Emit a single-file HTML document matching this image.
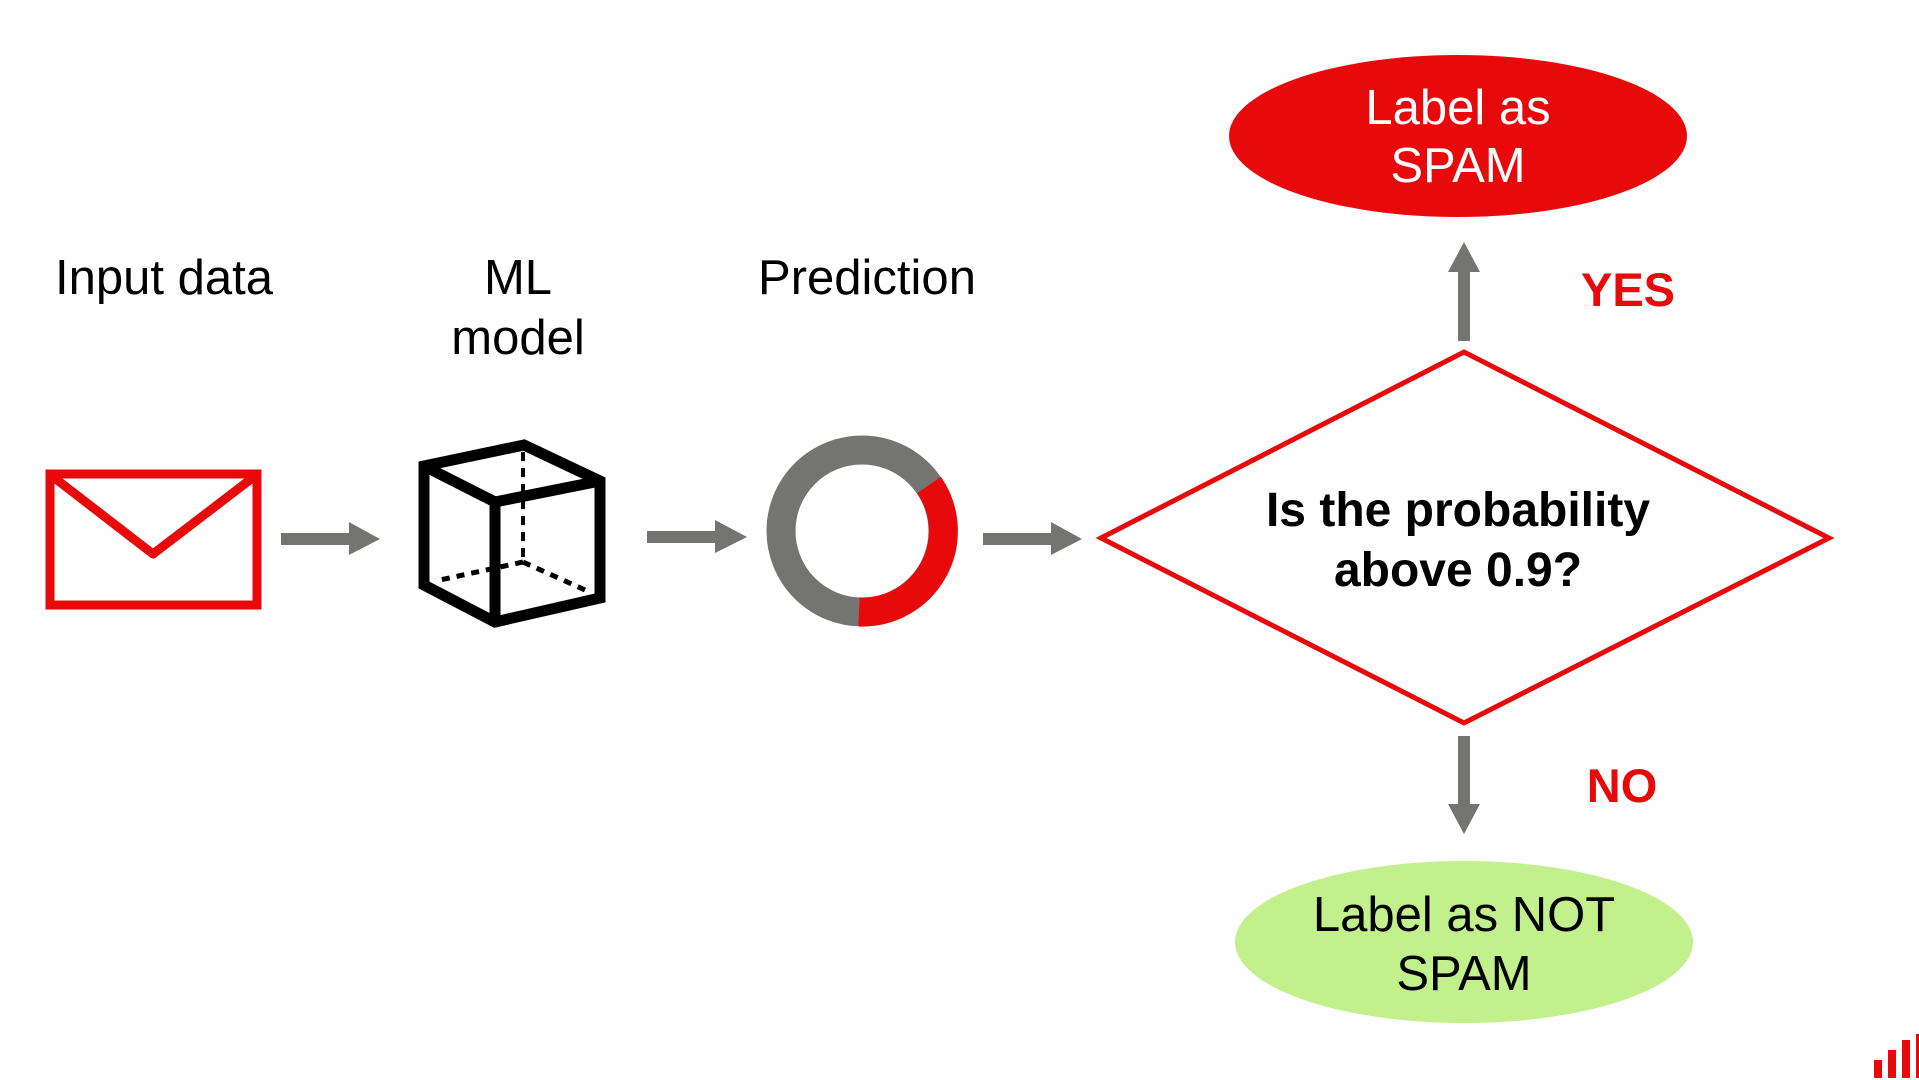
<!DOCTYPE html>
<html><head><meta charset="utf-8"><style>
html,body{margin:0;padding:0;background:#fff}
svg{display:block}
text{font-family:"Liberation Sans",Arial,sans-serif}
</style></head><body>
<svg width="1919" height="1080" viewBox="0 0 1919 1080">
<g font-size="49" fill="#000" text-anchor="middle">
<text x="164" y="294">Input data</text>
<text x="518" y="294">ML</text>
<text x="518" y="354">model</text>
<text x="867" y="294">Prediction</text>
</g>
<!-- envelope -->
<rect x="50" y="474" width="207" height="131" fill="none" stroke="#e8090a" stroke-width="9"/>
<polyline points="52,476 153,554 255,476" fill="none" stroke="#e8090a" stroke-width="9" stroke-linejoin="round"/>
<!-- cube -->
<g fill="none" stroke="#000" stroke-width="11" stroke-linejoin="miter">
<polygon points="424,466 524,445 600,481 600,598 495,622 424,585"/>
<polyline points="424,466 495,502 600,481"/>
<line x1="495" y1="502" x2="495" y2="622"/>
</g>
<g fill="none" stroke="#000">
<line x1="523" y1="452" x2="523" y2="562" stroke-width="4" stroke-dasharray="9,7"/>
<line x1="523" y1="562" x2="440" y2="580" stroke-width="5" stroke-dasharray="8,7"/>
<line x1="523" y1="562" x2="585" y2="590" stroke-width="5" stroke-dasharray="8,7"/>
</g>
<!-- donut -->
<circle cx="862" cy="531" r="81" fill="none" stroke="#747572" stroke-width="29"/>
<path d="M 929 485 A 81 81 0 0 1 859 612" fill="none" stroke="#e8090a" stroke-width="29"/>
<!-- arrows -->
<g fill="#747572">
<rect x="281" y="533" width="69" height="12"/><polygon points="349,522 380,539 349,555"/>
<rect x="647" y="531" width="69" height="12"/><polygon points="715,520 747,537 715,553"/>
<rect x="983" y="533" width="69" height="12"/><polygon points="1051,522 1082,539 1051,555"/>
<rect x="1458" y="270" width="12" height="71"/><polygon points="1448,272 1464,242 1480,272"/>
<rect x="1458" y="736" width="12" height="70"/><polygon points="1448,804 1464,834 1480,804"/>
</g>
<!-- diamond -->
<polygon points="1101,538 1464,352 1829,538 1464,723" fill="#fff" stroke="#e8090a" stroke-width="5"/>
<g font-size="48" font-weight="bold" fill="#000" text-anchor="middle">
<text x="1458" y="526">Is the probability</text>
<text x="1458" y="586">above 0.9?</text>
</g>
<ellipse cx="1458" cy="136" rx="229" ry="81" fill="#e8090a"/>
<g font-size="49" fill="#fff" text-anchor="middle">
<text x="1458" y="124">Label as</text>
<text x="1458" y="182">SPAM</text>
</g>
<ellipse cx="1464" cy="942" rx="229" ry="81" fill="#c1f08d"/>
<g font-size="49" fill="#000" text-anchor="middle">
<text x="1464" y="931">Label as NOT</text>
<text x="1464" y="990">SPAM</text>
</g>
<g font-size="47" font-weight="bold" fill="#e8090a" text-anchor="middle">
<text x="1628" y="306">YES</text>
<text x="1622" y="802">NO</text>
</g>
<g fill="#e8090a">
<rect x="1874" y="1060" width="8" height="18"/>
<rect x="1888" y="1050" width="8" height="28"/>
<rect x="1902" y="1040" width="8" height="38"/>
<rect x="1916" y="1034" width="3" height="44"/>
</g>
</svg>
</body></html>
